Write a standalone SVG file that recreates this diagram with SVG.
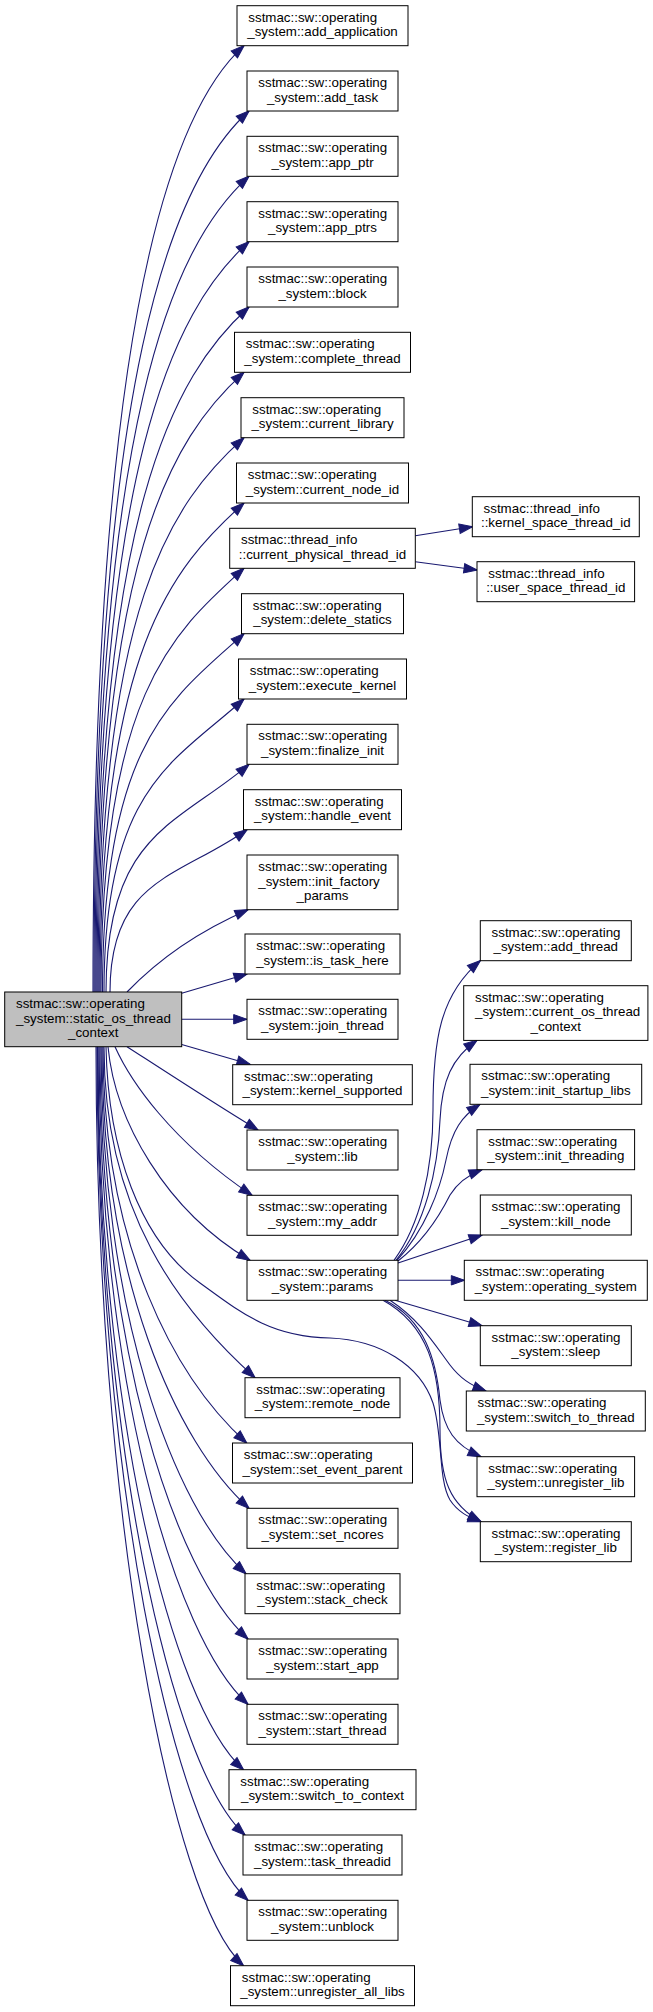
<svg xmlns="http://www.w3.org/2000/svg" width="653" height="2012" viewBox="0 0 653 2012">
<style>
.nd rect{fill:#fff;stroke:#000;stroke-width:1}
.nd.main rect{fill:#bfbfbf}
text{font-family:"Liberation Sans",Arial,Helvetica,sans-serif;font-size:13.33px;fill:#000}
.l{text-anchor:start}
.c{text-anchor:middle}
#edges path{fill:none;stroke:#191970;stroke-width:1.1;marker-end:url(#ah)}
</style>
<defs>
<marker id="ah" markerUnits="userSpaceOnUse" markerWidth="14" markerHeight="10" refX="13" refY="4.7" orient="auto" overflow="visible">
<path d="M0,0 L13.3,4.7 L0,9.4 Z" fill="#191970" stroke="#191970" stroke-width="1"/>
</marker>
</defs>
<rect width="653" height="2012" fill="#fff"/>
<g id="edges">
<path d="M93,992 C93,329.6 168.5,113.7 244,45.7"/>
<path d="M94,992 C94,375.3 171.5,180.8 249,111"/>
<path d="M95,992 C95,421 172,245.6 249,176.3"/>
<path d="M96,992 C96,466.8 172.5,310.6 249,241.7"/>
<path d="M97,992 C97,512.5 173,375.4 249,307"/>
<path d="M98,992 C98,558.2 171,438 244,372.3"/>
<path d="M99,992 C99,604 171.5,503 244,437.7"/>
<path d="M100,992 C100,649.7 172,567.8 244,503"/>
<path d="M101,992 C101,695.4 172.5,632.7 244,568.3"/>
<path d="M102.5,992 C102.5,741.2 173.3,697.4 244,633.7"/>
<path d="M104,992 C104,786.9 174,762 244,699"/>
<path d="M106,992 C106,832.6 177.5,825 249,764.3"/>
<path d="M110,992 C110,878.4 178.5,877.7 247,829.7"/>
<path d="M127,992 C150,968 190,935 248,909.7"/>
<path d="M181.7,993.3 L247,974"/>
<path d="M181.7,1019.3 L246.7,1019.3"/>
<path d="M181.7,1044.5 L250,1064.3"/>
<path d="M127,1046.7 C160,1068 215,1104 258,1130"/>
<path d="M115,1046.7 C130,1080 170,1140 252,1195.3"/>
<path d="M108,1046.7 C115,1120 165,1210 250,1260.3"/>
<path d="M106,1046.7 C108,1150 140,1240 200,1283 C240,1312 270,1337 330,1338 C380,1340 420,1365 433,1403 C443,1435 438,1480 450,1500 C458,1512 468,1517 481,1521.7"/>
<path d="M104,1046.7 C104,1212.2 179.5,1309.8 255,1377.7"/>
<path d="M103,1046.7 C103,1244.9 174.9,1378.3 246.7,1443"/>
<path d="M102,1046.7 C102,1277.5 175.5,1442.2 249,1508.3"/>
<path d="M101,1046.7 C101,1310.2 173.5,1508.5 246,1573.7"/>
<path d="M100,1046.7 C100,1342.9 174,1572.4 248,1639"/>
<path d="M99,1046.7 C99,1375.5 173.5,1637.3 248,1704.3"/>
<path d="M98,1046.7 C98,1408.2 170.8,1704.2 243.5,1769.7"/>
<path d="M97.5,1046.7 C97.5,1440.9 171.3,1768.6 245,1835"/>
<path d="M97,1046.7 C97,1473.5 172.5,1832.4 248,1900.3"/>
<path d="M96,1046.7 C96,1506.2 169.8,1899.3 243.5,1965.7"/>
<path d="M415.3,535.7 L472.3,526.7"/>
<path d="M415.3,561.7 L477,570"/>
<path d="M394,1260.3 C420,1225 433,1170 433,1110 C433,1040 440,995 480.3,960.7"/>
<path d="M396,1260.3 C425,1225 438,1170 440,1120 C442,1080 452,1058 477,1040.3"/>
<path d="M397,1260.3 C425,1230 440,1190 446,1160 C452,1130 462,1116 480,1104.3"/>
<path d="M398,1261 C425,1240 440,1215 450,1195 C458,1182 468,1175 482,1169.7"/>
<path d="M398,1263 L482,1235"/>
<path d="M398,1280.3 L464.3,1280.3"/>
<path d="M395,1300.3 L482,1325.7"/>
<path d="M390,1300.3 C420,1320 435,1345 450,1365 C460,1378 470,1385 486,1391"/>
<path d="M385,1300.3 C425,1320 436,1360 440,1400 C444,1430 455,1445 481,1456.7"/>
<path d="M383,1300.3 C428,1325 440,1370 440,1430 C440,1480 450,1505 481,1521.7"/>
</g>
<g id="main" class="nd main"><rect x="4.7" y="992" width="177" height="54.7"/><text class="l" x="16" y="1008">sstmac::sw::operating</text><text class="l" x="16" y="1022.7">_system::static_os_thread</text><text class="c" x="93.2" y="1037.3">_context</text></g>
<g id="n_add_application" class="nd"><rect x="237" y="5.7" width="171" height="40"/><text class="l" x="248.3" y="21.7">sstmac::sw::operating</text><text class="c" x="322.5" y="36.4">_system::add_application</text></g>
<g id="n_add_task" class="nd"><rect x="247" y="71" width="151" height="40"/><text class="l" x="258.3" y="87">sstmac::sw::operating</text><text class="c" x="322.5" y="101.7">_system::add_task</text></g>
<g id="n_app_ptr" class="nd"><rect x="247" y="136.3" width="151" height="40"/><text class="l" x="258.3" y="152.3">sstmac::sw::operating</text><text class="c" x="322.5" y="167">_system::app_ptr</text></g>
<g id="n_app_ptrs" class="nd"><rect x="247" y="201.7" width="151" height="40"/><text class="l" x="258.3" y="217.7">sstmac::sw::operating</text><text class="c" x="322.5" y="232.4">_system::app_ptrs</text></g>
<g id="n_block" class="nd"><rect x="247" y="267" width="151" height="40"/><text class="l" x="258.3" y="283">sstmac::sw::operating</text><text class="c" x="322.5" y="297.7">_system::block</text></g>
<g id="n_complete_thread" class="nd"><rect x="234.5" y="332.3" width="176" height="40"/><text class="l" x="245.8" y="348.3">sstmac::sw::operating</text><text class="c" x="322.5" y="363">_system::complete_thread</text></g>
<g id="n_current_library" class="nd"><rect x="241" y="397.7" width="163" height="40"/><text class="l" x="252.3" y="413.7">sstmac::sw::operating</text><text class="c" x="322.5" y="428.4">_system::current_library</text></g>
<g id="n_current_node_id" class="nd"><rect x="236.5" y="463" width="172" height="40"/><text class="l" x="247.8" y="479">sstmac::sw::operating</text><text class="c" x="322.5" y="493.7">_system::current_node_id</text></g>
<g id="n_current_physical_thread_id" class="nd"><rect x="229.7" y="528.3" width="185.6" height="40"/><text class="l" x="241" y="544.3">sstmac::thread_info</text><text class="c" x="322.5" y="559">::current_physical_thread_id</text></g>
<g id="n_delete_statics" class="nd"><rect x="241.5" y="593.7" width="162" height="40"/><text class="l" x="252.8" y="609.7">sstmac::sw::operating</text><text class="c" x="322.5" y="624.4">_system::delete_statics</text></g>
<g id="n_execute_kernel" class="nd"><rect x="238.5" y="659" width="168" height="40"/><text class="l" x="249.8" y="675">sstmac::sw::operating</text><text class="c" x="322.5" y="689.7">_system::execute_kernel</text></g>
<g id="n_finalize_init" class="nd"><rect x="247" y="724.3" width="151" height="40"/><text class="l" x="258.3" y="740.3">sstmac::sw::operating</text><text class="c" x="322.5" y="755">_system::finalize_init</text></g>
<g id="n_handle_event" class="nd"><rect x="243.5" y="789.7" width="158" height="40"/><text class="l" x="254.8" y="805.7">sstmac::sw::operating</text><text class="c" x="322.5" y="820.4">_system::handle_event</text></g>
<g id="n_init_factory_params" class="nd"><rect x="247" y="855" width="151" height="54.7"/><text class="l" x="258.3" y="871">sstmac::sw::operating</text><text class="l" x="258.3" y="885.7">_system::init_factory</text><text class="c" x="322.5" y="900.3">_params</text></g>
<g id="n_is_task_here" class="nd"><rect x="245" y="934" width="155" height="40"/><text class="l" x="256.3" y="950">sstmac::sw::operating</text><text class="c" x="322.5" y="964.7">_system::is_task_here</text></g>
<g id="n_join_thread" class="nd"><rect x="247" y="999.3" width="151" height="40"/><text class="l" x="258.3" y="1015.3">sstmac::sw::operating</text><text class="c" x="322.5" y="1030">_system::join_thread</text></g>
<g id="n_kernel_supported" class="nd"><rect x="232.7" y="1064.7" width="179.6" height="40"/><text class="l" x="244" y="1080.7">sstmac::sw::operating</text><text class="c" x="322.5" y="1095.4">_system::kernel_supported</text></g>
<g id="n_lib" class="nd"><rect x="247" y="1130" width="151" height="40"/><text class="l" x="258.3" y="1146">sstmac::sw::operating</text><text class="c" x="322.5" y="1160.7">_system::lib</text></g>
<g id="n_my_addr" class="nd"><rect x="247" y="1195.3" width="151" height="40"/><text class="l" x="258.3" y="1211.3">sstmac::sw::operating</text><text class="c" x="322.5" y="1226">_system::my_addr</text></g>
<g id="n_params" class="nd"><rect x="247" y="1260.3" width="151" height="40"/><text class="l" x="258.3" y="1276.3">sstmac::sw::operating</text><text class="c" x="322.5" y="1291">_system::params</text></g>
<g id="n_remote_node" class="nd"><rect x="245" y="1377.7" width="155" height="40"/><text class="l" x="256.3" y="1393.7">sstmac::sw::operating</text><text class="c" x="322.5" y="1408.4">_system::remote_node</text></g>
<g id="n_set_event_parent" class="nd"><rect x="232.5" y="1443" width="180" height="40"/><text class="l" x="243.8" y="1459">sstmac::sw::operating</text><text class="c" x="322.5" y="1473.7">_system::set_event_parent</text></g>
<g id="n_set_ncores" class="nd"><rect x="247" y="1508.3" width="151" height="40"/><text class="l" x="258.3" y="1524.3">sstmac::sw::operating</text><text class="c" x="322.5" y="1539">_system::set_ncores</text></g>
<g id="n_stack_check" class="nd"><rect x="245" y="1573.7" width="155" height="40"/><text class="l" x="256.3" y="1589.7">sstmac::sw::operating</text><text class="c" x="322.5" y="1604.4">_system::stack_check</text></g>
<g id="n_start_app" class="nd"><rect x="247" y="1639" width="151" height="40"/><text class="l" x="258.3" y="1655">sstmac::sw::operating</text><text class="c" x="322.5" y="1669.7">_system::start_app</text></g>
<g id="n_start_thread" class="nd"><rect x="247" y="1704.3" width="151" height="40"/><text class="l" x="258.3" y="1720.3">sstmac::sw::operating</text><text class="c" x="322.5" y="1735">_system::start_thread</text></g>
<g id="n_switch_to_context" class="nd"><rect x="229" y="1769.7" width="187" height="40"/><text class="l" x="240.3" y="1785.7">sstmac::sw::operating</text><text class="c" x="322.5" y="1800.4">_system::switch_to_context</text></g>
<g id="n_task_threadid" class="nd"><rect x="243" y="1835" width="159" height="40"/><text class="l" x="254.3" y="1851">sstmac::sw::operating</text><text class="c" x="322.5" y="1865.7">_system::task_threadid</text></g>
<g id="n_unblock" class="nd"><rect x="247" y="1900.3" width="151" height="40"/><text class="l" x="258.3" y="1916.3">sstmac::sw::operating</text><text class="c" x="322.5" y="1931">_system::unblock</text></g>
<g id="n_unregister_all_libs" class="nd"><rect x="230.5" y="1965.7" width="184" height="40"/><text class="l" x="241.8" y="1981.7">sstmac::sw::operating</text><text class="c" x="322.5" y="1996.4">_system::unregister_all_libs</text></g>
<g id="n_kernel_space_thread_id" class="nd"><rect x="472.3" y="496.7" width="167" height="40"/><text class="l" x="483.6" y="512.7">sstmac::thread_info</text><text class="c" x="555.8" y="527.4">::kernel_space_thread_id</text></g>
<g id="n_user_space_thread_id" class="nd"><rect x="477" y="561.7" width="157.6" height="40"/><text class="l" x="488.3" y="577.7">sstmac::thread_info</text><text class="c" x="555.8" y="592.4">::user_space_thread_id</text></g>
<g id="n_add_thread" class="nd"><rect x="480.3" y="920.7" width="151" height="40"/><text class="l" x="491.6" y="936.7">sstmac::sw::operating</text><text class="c" x="555.8" y="951.4">_system::add_thread</text></g>
<g id="n_current_os_thread_context" class="nd"><rect x="463.7" y="985.7" width="184.2" height="54.7"/><text class="l" x="475" y="1001.7">sstmac::sw::operating</text><text class="l" x="475" y="1016.4">_system::current_os_thread</text><text class="c" x="555.8" y="1031">_context</text></g>
<g id="n_init_startup_libs" class="nd"><rect x="470" y="1064.3" width="171.7" height="40"/><text class="l" x="481.3" y="1080.3">sstmac::sw::operating</text><text class="c" x="555.8" y="1095">_system::init_startup_libs</text></g>
<g id="n_init_threading" class="nd"><rect x="477" y="1129.7" width="157.6" height="40"/><text class="l" x="488.3" y="1145.7">sstmac::sw::operating</text><text class="c" x="555.8" y="1160.4">_system::init_threading</text></g>
<g id="n_kill_node" class="nd"><rect x="480.3" y="1195" width="151" height="40"/><text class="l" x="491.6" y="1211">sstmac::sw::operating</text><text class="c" x="555.8" y="1225.7">_system::kill_node</text></g>
<g id="n_operating_system" class="nd"><rect x="464.3" y="1260.3" width="183" height="40"/><text class="l" x="475.6" y="1276.3">sstmac::sw::operating</text><text class="c" x="555.8" y="1291">_system::operating_system</text></g>
<g id="n_sleep" class="nd"><rect x="480.3" y="1325.7" width="151" height="40"/><text class="l" x="491.6" y="1341.7">sstmac::sw::operating</text><text class="c" x="555.8" y="1356.4">_system::sleep</text></g>
<g id="n_switch_to_thread" class="nd"><rect x="466.3" y="1391" width="179" height="40"/><text class="l" x="477.6" y="1407">sstmac::sw::operating</text><text class="c" x="555.8" y="1421.7">_system::switch_to_thread</text></g>
<g id="n_unregister_lib" class="nd"><rect x="477" y="1456.7" width="157.6" height="40"/><text class="l" x="488.3" y="1472.7">sstmac::sw::operating</text><text class="c" x="555.8" y="1487.4">_system::unregister_lib</text></g>
<g id="n_register_lib" class="nd"><rect x="480.3" y="1521.7" width="151" height="40"/><text class="l" x="491.6" y="1537.7">sstmac::sw::operating</text><text class="c" x="555.8" y="1552.4">_system::register_lib</text></g>
</svg>
